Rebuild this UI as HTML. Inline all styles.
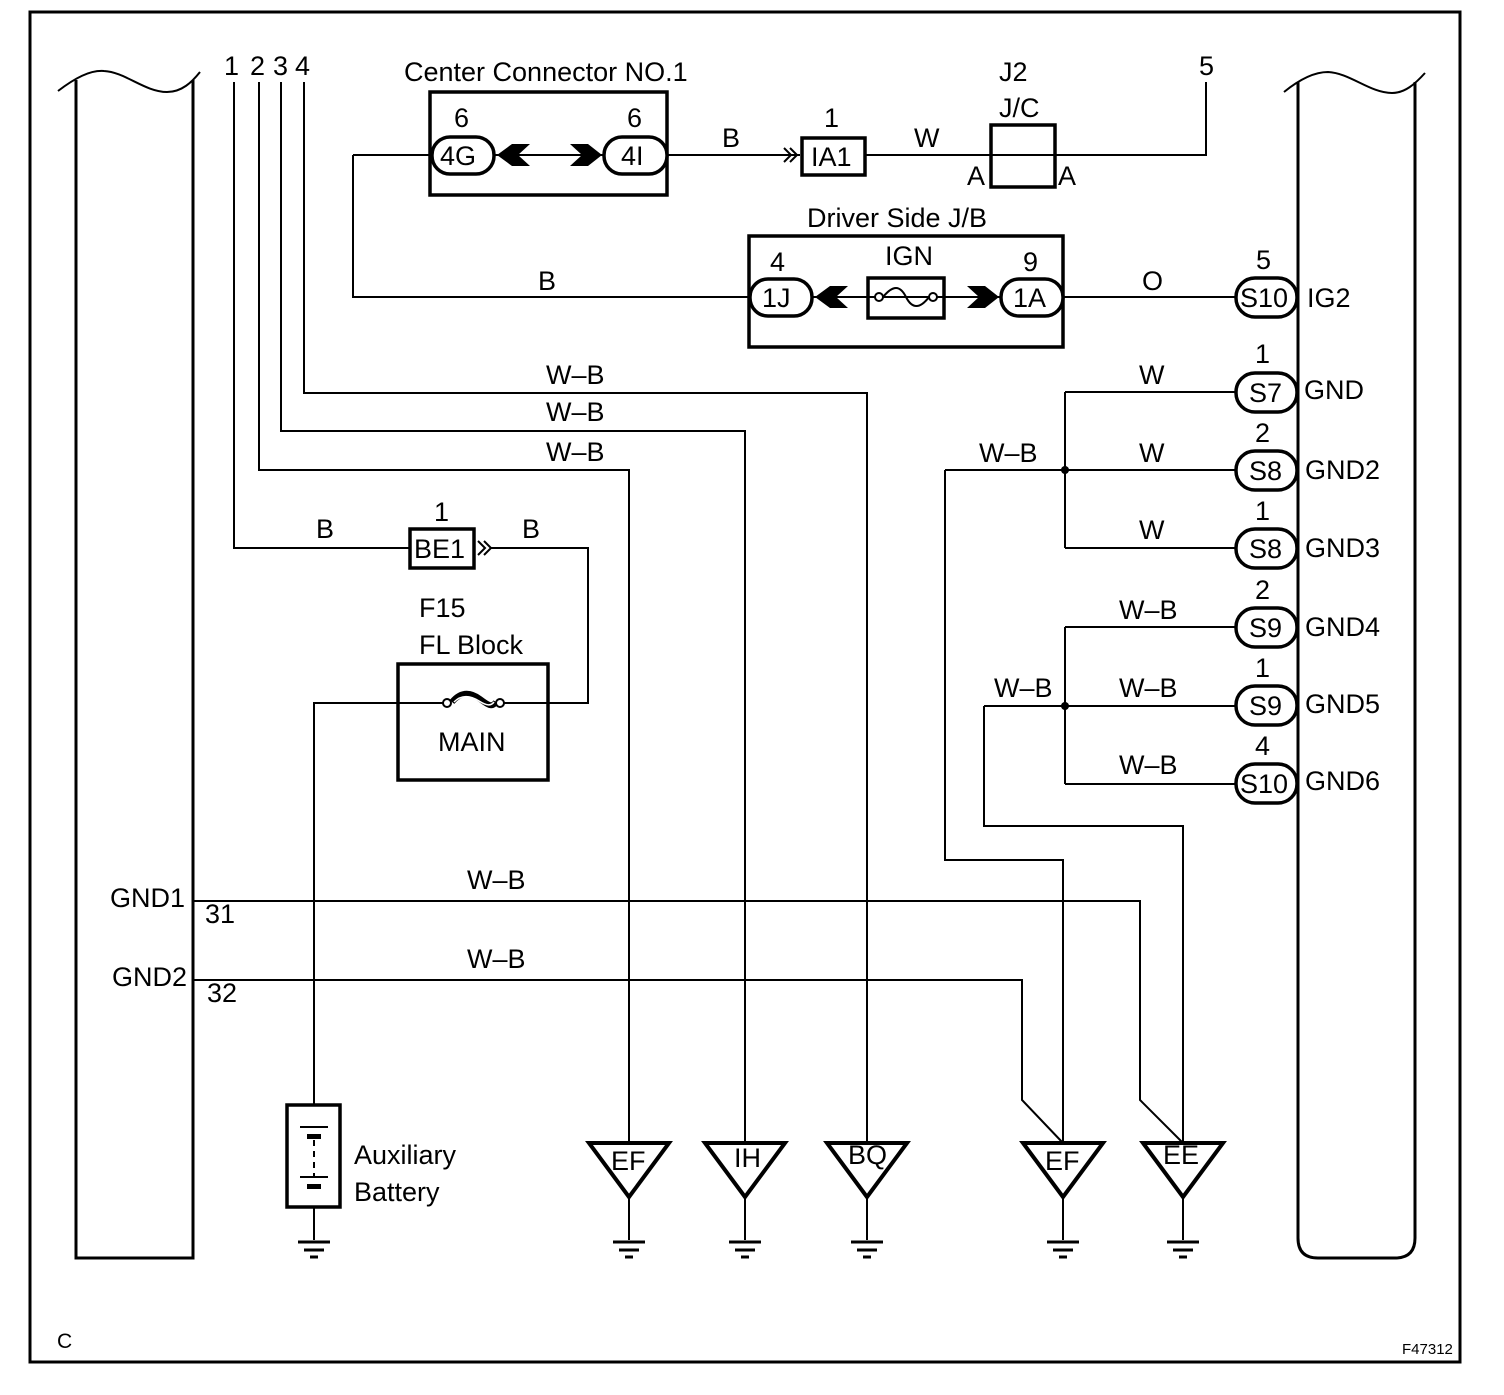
<!DOCTYPE html>
<html><head><meta charset="utf-8"><style>
html,body{margin:0;padding:0;background:#fff}
svg text{font-family:"Liberation Sans",Arial,sans-serif;font-size:27px;fill:#000}
</style></head><body>
<svg width="1504" height="1390" viewBox="0 0 1504 1390" xmlns="http://www.w3.org/2000/svg">
<g fill="none" stroke="#000">
<rect x="30" y="12" width="1430" height="1350" stroke-width="3"/>
<!-- left bar -->
<path d="M76 80 V1258 H193 V80" stroke-width="3"/>
<path d="M58 91 C75 78 90 70 104 71 C125 72 145 92 167 92 C182 92 192 82 200 72" stroke-width="2"/>
<!-- right bar -->
<path d="M1298 82 V1238 Q1298 1258 1318 1258 H1395 Q1415 1258 1415 1238 V82" stroke-width="3"/>
<path d="M1284 92 C1300 79 1314 72 1328 72 C1350 73 1370 93 1392 93 C1405 93 1415 84 1425 73" stroke-width="2"/>
<g stroke-width="2">
<path d="M234 82 V548 H410"/>
<path d="M259 82 V470 H629 V1143"/>
<path d="M281 82 V431 H745 V1143"/>
<path d="M304 82 V393 H867 V1143"/>
<path d="M353 155 H432 M353 155 V297 H750"/>
<path d="M494 155 H604"/>
<path d="M667 155 H800"/>
<path d="M865 155 H1206 V82"/>
<path d="M812 297 H1001 M1063 297 H1236"/>
<path d="M1065 392 V548 M1065 392 H1236 M1065 470 H1236 M1065 548 H1236"/>
<path d="M945 470 H1065 M945 470 V860 H1063 V1143"/>
<path d="M1065 627 V784 M1065 627 H1236 M1065 706 H1236 M1065 784 H1236"/>
<path d="M984 706 H1065 M984 706 V826 H1183 V1143"/>
<path d="M193 901 H1140 V1100 L1183 1143"/>
<path d="M193 980 H1022 V1100 L1063 1143"/>
<path d="M490 548 H588 V703 H500 M443 703 H314 V1105 M314 1207 V1240"/>
<path d="M629 1197 V1240 M745 1197 V1240 M867 1197 V1240 M1063 1197 V1240 M1183 1197 V1240"/>
</g>
<g stroke-width="3.5">
<rect x="430" y="92" width="237" height="103"/>
<rect x="802" y="138" width="63" height="37"/>
<rect x="991" y="125" width="64" height="62"/>
<rect x="749" y="236" width="314" height="111"/>
<rect x="868" y="278" width="76" height="40"/>
<rect x="410" y="529" width="64" height="39"/>
<rect x="398" y="664" width="150" height="116"/>
<rect x="287" y="1105" width="53" height="102"/>
</g>
<g stroke-width="3.5" fill="#fff">
<rect x="432" y="137" width="62" height="37" rx="18"/>
<rect x="604" y="137" width="63" height="37" rx="18"/>
<rect x="750" y="279" width="62" height="37" rx="18"/>
<rect x="1001" y="279" width="62" height="37" rx="18"/>
<rect x="1236" y="278" width="61" height="39" rx="19"/>
<rect x="1236" y="373" width="61" height="39" rx="19"/>
<rect x="1236" y="451" width="61" height="39" rx="19"/>
<rect x="1236" y="529" width="61" height="39" rx="19"/>
<rect x="1236" y="608" width="61" height="39" rx="19"/>
<rect x="1236" y="686" width="61" height="39" rx="19"/>
<rect x="1236" y="764" width="61" height="39" rx="19"/>
</g>
<g stroke-width="4" fill="#fff">
<path d="M589 1143 H669 L629 1197 Z"/>
<path d="M705 1143 H785 L745 1197 Z"/>
<path d="M827 1143 H907 L867 1197 Z"/>
<path d="M1023 1143 H1103 L1063 1197 Z"/>
<path d="M1143 1143 H1223 L1183 1197 Z"/>
</g>
<g stroke-width="2">
<path d="M883 297 C893 285 900 285 906 297 C912 309 920 309 929 297"/>
<circle cx="879" cy="297" r="4" fill="#fff"/><circle cx="933" cy="297" r="4" fill="#fff"/>
<path d="M452 702 C462 690 472 693 480 699 C488 705 492 708 496 702" stroke-width="6"/>
<path d="M454 702 C462 694 471 696 479 701 C487 706 491 706 494 702" stroke="#fff" stroke-width="1.5"/>
<circle cx="447" cy="703" r="4" fill="#fff"/><circle cx="500" cy="703" r="4" fill="#fff"/>
<path d="M478 541 L485 548 L478 555 M484 541 L491 548 L484 555"/>
<path d="M784 148 L791 155 L784 162 M790 148 L797 155 L790 162"/>
<path d="M300 1127 H328 M300 1177 H328"/>
<path d="M314 1140 V1176" stroke-dasharray="6 5"/>
</g>
<g fill="#000" stroke="none">
<path d="M497 155 L512 144 H530 L518 155 L530 166 H512 Z"/>
<path d="M602 155 L588 144 H570 L582 155 L570 166 H588 Z"/>
<path d="M815 297 L830 286 H848 L836 297 L848 308 H830 Z"/>
<path d="M999 297 L985 286 H967 L979 297 L967 308 H985 Z"/>
<rect x="307" y="1134" width="14" height="5"/><rect x="307" y="1184" width="14" height="5"/>
<circle cx="1065" cy="470" r="4"/><circle cx="1065" cy="706" r="4"/>
</g>
<g stroke-width="3">
<path d="M298 1242 H330 M304 1250 H324 M310 1257 H318"/>
<path d="M613 1242 H645 M619 1250 H639 M625 1257 H633"/>
<path d="M729 1242 H761 M735 1250 H755 M741 1257 H749"/>
<path d="M851 1242 H883 M857 1250 H877 M863 1257 H871"/>
<path d="M1047 1242 H1079 M1053 1250 H1073 M1059 1257 H1067"/>
<path d="M1167 1242 H1199 M1173 1250 H1193 M1179 1257 H1187"/>
</g>
</g>
<g>
<text x="224" y="75">1</text><text x="250" y="75">2</text><text x="273" y="75">3</text><text x="295" y="75">4</text>
<text x="404" y="81">Center Connector NO.1</text>
<text x="454" y="127">6</text><text x="627" y="127">6</text>
<text x="440" y="165">4G</text><text x="621" y="165">4I</text>
<text x="722" y="147">B</text>
<text x="824" y="127">1</text><text x="811" y="166">IA1</text>
<text x="914" y="147">W</text>
<text x="999" y="81">J2</text><text x="999" y="117">J/C</text>
<text x="967" y="185">A</text><text x="1058" y="185">A</text>
<text x="1199" y="75">5</text>
<text x="807" y="227">Driver Side J/B</text>
<text x="770" y="271">4</text><text x="885" y="265">IGN</text><text x="1023" y="271">9</text>
<text x="762" y="307">1J</text><text x="1013" y="307">1A</text>
<text x="538" y="290">B</text><text x="1142" y="290">O</text>
<text x="1256" y="269">5</text><text x="1240" y="307">S10</text><text x="1307" y="307">IG2</text>
<text x="1255" y="363">1</text><text x="1249" y="402">S7</text><text x="1304" y="399">GND</text>
<text x="1255" y="442">2</text><text x="1249" y="480">S8</text><text x="1305" y="479">GND2</text>
<text x="1255" y="520">1</text><text x="1249" y="558">S8</text><text x="1305" y="557">GND3</text>
<text x="1255" y="599">2</text><text x="1249" y="637">S9</text><text x="1305" y="636">GND4</text>
<text x="1255" y="677">1</text><text x="1249" y="715">S9</text><text x="1305" y="713">GND5</text>
<text x="1255" y="755">4</text><text x="1240" y="793">S10</text><text x="1305" y="790">GND6</text>
<text x="1139" y="384">W</text><text x="1139" y="462">W</text><text x="1139" y="539">W</text>
<text x="979" y="462">W–B</text>
<text x="1119" y="619">W–B</text><text x="1119" y="697">W–B</text><text x="1119" y="774">W–B</text>
<text x="994" y="697">W–B</text>
<text x="546" y="384">W–B</text><text x="546" y="421">W–B</text><text x="546" y="461">W–B</text>
<text x="316" y="538">B</text><text x="522" y="538">B</text>
<text x="434" y="521">1</text><text x="414" y="558">BE1</text>
<text x="419" y="617">F15</text><text x="419" y="654">FL Block</text>
<text x="438" y="751">MAIN</text>
<text x="110" y="907">GND1</text><text x="205" y="923">31</text>
<text x="112" y="986">GND2</text><text x="207" y="1002">32</text>
<text x="467" y="889">W–B</text><text x="467" y="968">W–B</text>
<text x="354" y="1164">Auxiliary</text><text x="354" y="1201">Battery</text>
<text x="611" y="1170">EF</text><text x="734" y="1167">IH</text><text x="848" y="1164">BQ</text>
<text x="1045" y="1170">EF</text><text x="1163" y="1164">EE</text>
<text x="57" y="1348" style="font-size:21px">C</text>
<text x="1402" y="1354" style="font-size:15px">F47312</text>
</g>
</svg>
</body></html>
